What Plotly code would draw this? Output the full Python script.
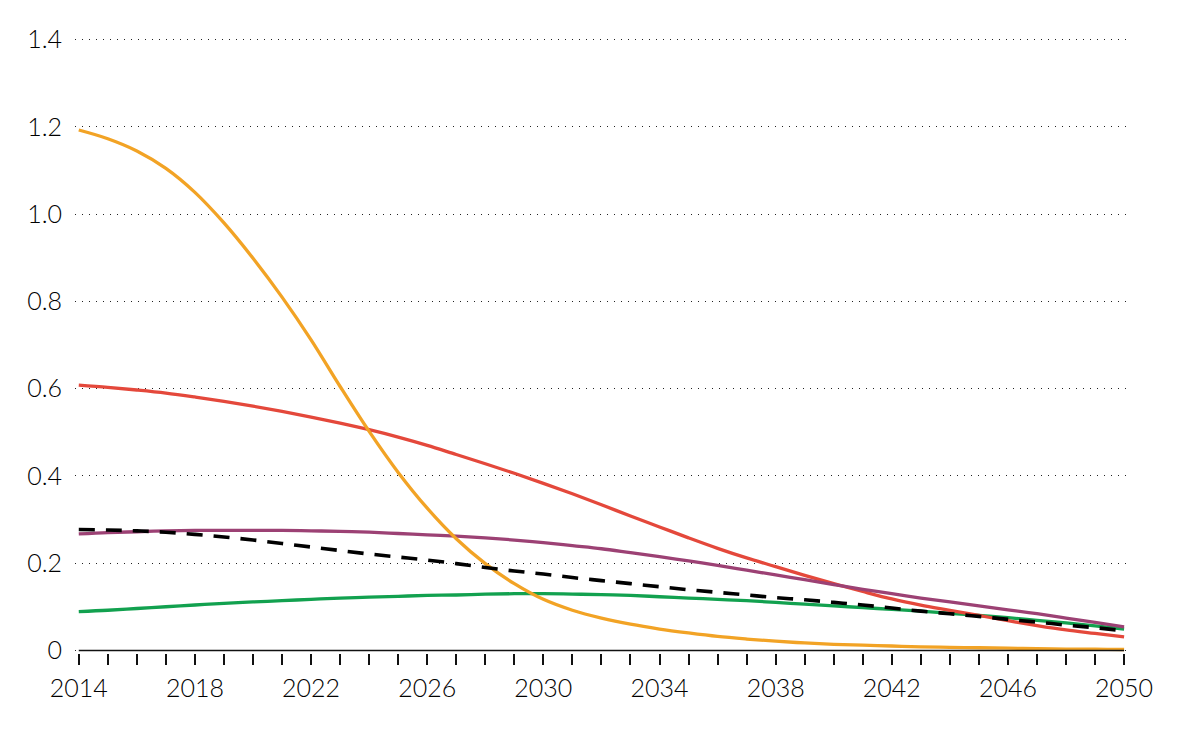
import plotly.graph_objects as go

years = list(range(2014, 2051))

orange = [1.193, 1.173, 1.145, 1.105, 1.050, 0.980, 0.899, 0.810, 0.712, 0.605,
          0.502, 0.408, 0.326, 0.256, 0.199, 0.153, 0.117, 0.092, 0.074, 0.060,
          0.049, 0.040, 0.032, 0.026, 0.021, 0.017, 0.014, 0.012, 0.010, 0.008,
          0.007, 0.006, 0.005, 0.004, 0.003, 0.003, 0.002]

red = [0.608, 0.603, 0.597, 0.590, 0.581, 0.571, 0.560, 0.548, 0.535, 0.521,
       0.506, 0.489, 0.470, 0.449, 0.428, 0.406, 0.383, 0.359, 0.334, 0.308,
       0.283, 0.258, 0.234, 0.212, 0.192, 0.172, 0.153, 0.135, 0.118, 0.104,
       0.092, 0.080, 0.068, 0.057, 0.047, 0.039, 0.031]

purple = [0.267, 0.270, 0.272, 0.274, 0.275, 0.275, 0.275, 0.275, 0.274, 0.273,
          0.271, 0.268, 0.265, 0.262, 0.258, 0.253, 0.247, 0.240, 0.233, 0.224,
          0.215, 0.205, 0.195, 0.184, 0.173, 0.162, 0.151, 0.140, 0.130, 0.120,
          0.111, 0.102, 0.093, 0.084, 0.074, 0.064, 0.054]

green = [0.089, 0.092, 0.096, 0.100, 0.104, 0.108, 0.111, 0.114, 0.117, 0.120,
         0.122, 0.124, 0.126, 0.127, 0.129, 0.130, 0.130, 0.129, 0.128, 0.126,
         0.123, 0.120, 0.117, 0.114, 0.110, 0.106, 0.102, 0.098, 0.094, 0.090,
         0.085, 0.080, 0.075, 0.069, 0.063, 0.056, 0.049]

dashed = [0.277, 0.276, 0.274, 0.271, 0.266, 0.260, 0.253, 0.245, 0.237, 0.229,
          0.221, 0.214, 0.207, 0.199, 0.190, 0.182, 0.175, 0.167, 0.160, 0.153,
          0.146, 0.139, 0.133, 0.127, 0.121, 0.116, 0.110, 0.104, 0.097, 0.090,
          0.084, 0.078, 0.071, 0.065, 0.058, 0.052, 0.045]

y_ticks = [0, 0.2, 0.4, 0.6, 0.8, 1.0, 1.2, 1.4]
y_labels = ["0", "0.2", "0.4", "0.6", "0.8", "1.0", "1.2", "1.4"]
x_ticks = list(range(2014, 2051, 4))

fig = go.Figure()

series = [
    (green, "#12A14F", None, 3.3),
    (red, "#E4483B", None, 3.3),
    (purple, "#9C4174", None, 3.3),
    (orange, "#F2A325", None, 3.3),
    (dashed, "#000000", "16px,11px", 3.6),
]
for vals, col, dash, w in series:
    fig.add_trace(go.Scatter(
        x=years, y=vals, mode="lines",
        line=dict(color=col, width=w, shape="spline", smoothing=1.0,
                  dash=dash if dash else "solid"),
        showlegend=False, hoverinfo="skip", cliponaxis=False,
    ))

fig.add_shape(type="line", xref="x", yref="y", x0=2014, x1=2050, y0=0, y1=0,
              line=dict(color="#111111", width=1.5), layer="above")

fig.update_layout(
    width=1193, height=737,
    margin=dict(l=67, r=74, t=30, b=92),
    paper_bgcolor="white", plot_bgcolor="white",
    font=dict(family="Lato, sans-serif", size=25, color="#000000", weight=300),
    xaxis=dict(
        range=[2013.87, 2050.1],
        tickvals=x_ticks, ticktext=[str(t) for t in x_ticks],
        ticks="outside", ticklen=11, tickwidth=1.5, tickcolor="#111111",
        minor=dict(dtick=1, tick0=2014, ticks="outside", ticklen=11,
                   tickwidth=1.5, tickcolor="#111111", showgrid=False),
        showgrid=False, zeroline=False, showline=False,
        ticklabelstandoff=2, automargin=False,
    ),
    yaxis=dict(
        range=[-0.006, 1.404],
        tickvals=y_ticks, ticktext=y_labels,
        showgrid=True, gridcolor="#222222", gridwidth=1.4, griddash="1px,6px",
        zeroline=False, showline=False, ticks="",
        ticklabelstandoff=12, automargin=False,
    ),
)

fig.write_html("out.html")
